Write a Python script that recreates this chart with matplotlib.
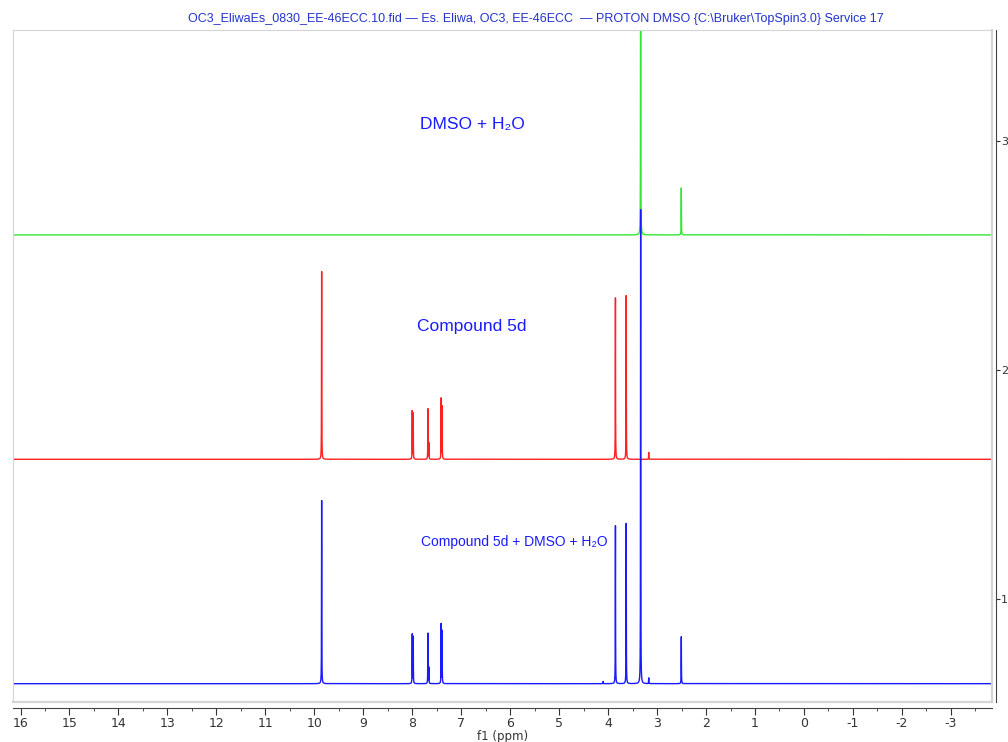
import matplotlib
matplotlib.use("Agg")
import matplotlib.pyplot as plt
import numpy as np

plt.rcParams['axes.unicode_minus'] = False
plt.rcParams['font.family'] = ['Liberation Sans', 'DejaVu Sans']

# peak lists (ppm, height above baseline)
ppm_green = [3.335, 2.505]
h_green = [1.60, 0.205]

ppm_red = [9.85, 8.00, 7.98, 7.68, 7.66, 7.41, 7.39, 3.85, 3.63, 3.17]
h_red = [0.82, 0.21, 0.20, 0.22, 0.07, 0.265, 0.23, 0.705, 0.715, 0.03]

ppm_blue = [9.85, 8.00, 7.98, 7.68, 7.66, 7.41, 7.39, 4.10, 3.85, 3.63, 3.335, 3.17, 2.505]
h_blue = [0.80, 0.215, 0.205, 0.22, 0.07, 0.26, 0.23, 0.01, 0.69, 0.70, 2.07, 0.025, 0.205]

# vertical offsets of the stacked traces
base_green = 2.59
base_red = 1.61
base_blue = 0.63

labels = ["DMSO + H\u2082O", "Compound 5d", "Compound 5d + DMSO + H\u2082O"]
title = ("OC3_EliwaEs_0830_EE-46ECC.10.fid \u2014 Es. Eliwa, OC3, EE-46ECC  "
         "\u2014 PROTON DMSO {C:\\Bruker\\TopSpin3.0} Service 17")

xlim = (16.16, -3.84)
ylim = (0.55, 3.485)


def spectrum(x, centers, heights, hw=0.0025):
    y = np.zeros_like(x)
    for c, h in zip(centers, heights):
        y += h / (1 + ((x - c) / hw) ** 2)
    return y


x = np.arange(xlim[1], xlim[0], 0.0005)

fig = plt.figure(figsize=(10.08, 7.42), dpi=100)
ax = fig.add_axes([0.0126, 0.0539, 0.9715, 0.9057])

ax.plot(x, base_green + spectrum(x, ppm_green, h_green), color='#33e633', lw=1.0)
ax.plot(x, base_red + spectrum(x, ppm_red, h_red), color='#ff2020', lw=1.0)
ax.plot(x, base_blue + spectrum(x, ppm_blue, h_blue), color='#1a1aff', lw=1.0)

ax.set_xlim(*xlim)
ax.set_ylim(*ylim)

ax.text(6.78, 3.07, labels[0], color='#1a1aff', fontsize=12.5, ha='center', va='center')
ax.text(6.78, 2.19, labels[1], color='#1a1aff', fontsize=12.5, ha='center', va='center')
ax.text(5.91, 1.25, labels[2], color='#1a1aff', fontsize=10, ha='center', va='center')

# frame
for s in ['top', 'left']:
    ax.spines[s].set_color('#d4d4d4')
ax.spines['bottom'].set_position(('outward', 4))
ax.spines['bottom'].set_color('#444444')
ax.spines['right'].set_position(('outward', 3))
ax.spines['right'].set_color('#444444')
ax.plot([0, 1], [0, 0], transform=ax.transAxes, color='#d4d4d4', lw=1.6, clip_on=False)
ax.plot([1, 1], [0, 1], transform=ax.transAxes, color='#d4d4d4', lw=1.6, clip_on=False)

ax.set_xticks(np.arange(-3, 17, 1))
ax.set_xticks(np.arange(-3.5, 16.5, 1), minor=True)
ax.tick_params(axis='x', which='major', direction='out', length=5, labelsize=9, colors='#333333', pad=2)
ax.tick_params(axis='x', which='minor', direction='out', length=2, colors='#333333')
ax.set_xticklabels([str(v) for v in range(-3, 17)], family=['DejaVu Sans'])
ax.set_xlabel("f1 (ppm)", fontsize=8.5, color='#333333', labelpad=0, family=['DejaVu Sans'])

ax.yaxis.tick_right()
ax.set_yticks([1, 2, 3])
ax.tick_params(axis='y', direction='out', length=3, labelsize=8, colors='#333333', pad=0.5)
ax.set_yticklabels(['1', '2', '3'], family=['DejaVu Sans'])

fig.text(0.532, 0.974, title, color='#2233cc', fontsize=9, ha='center', va='center')

fig.savefig("out.png", dpi=100)
